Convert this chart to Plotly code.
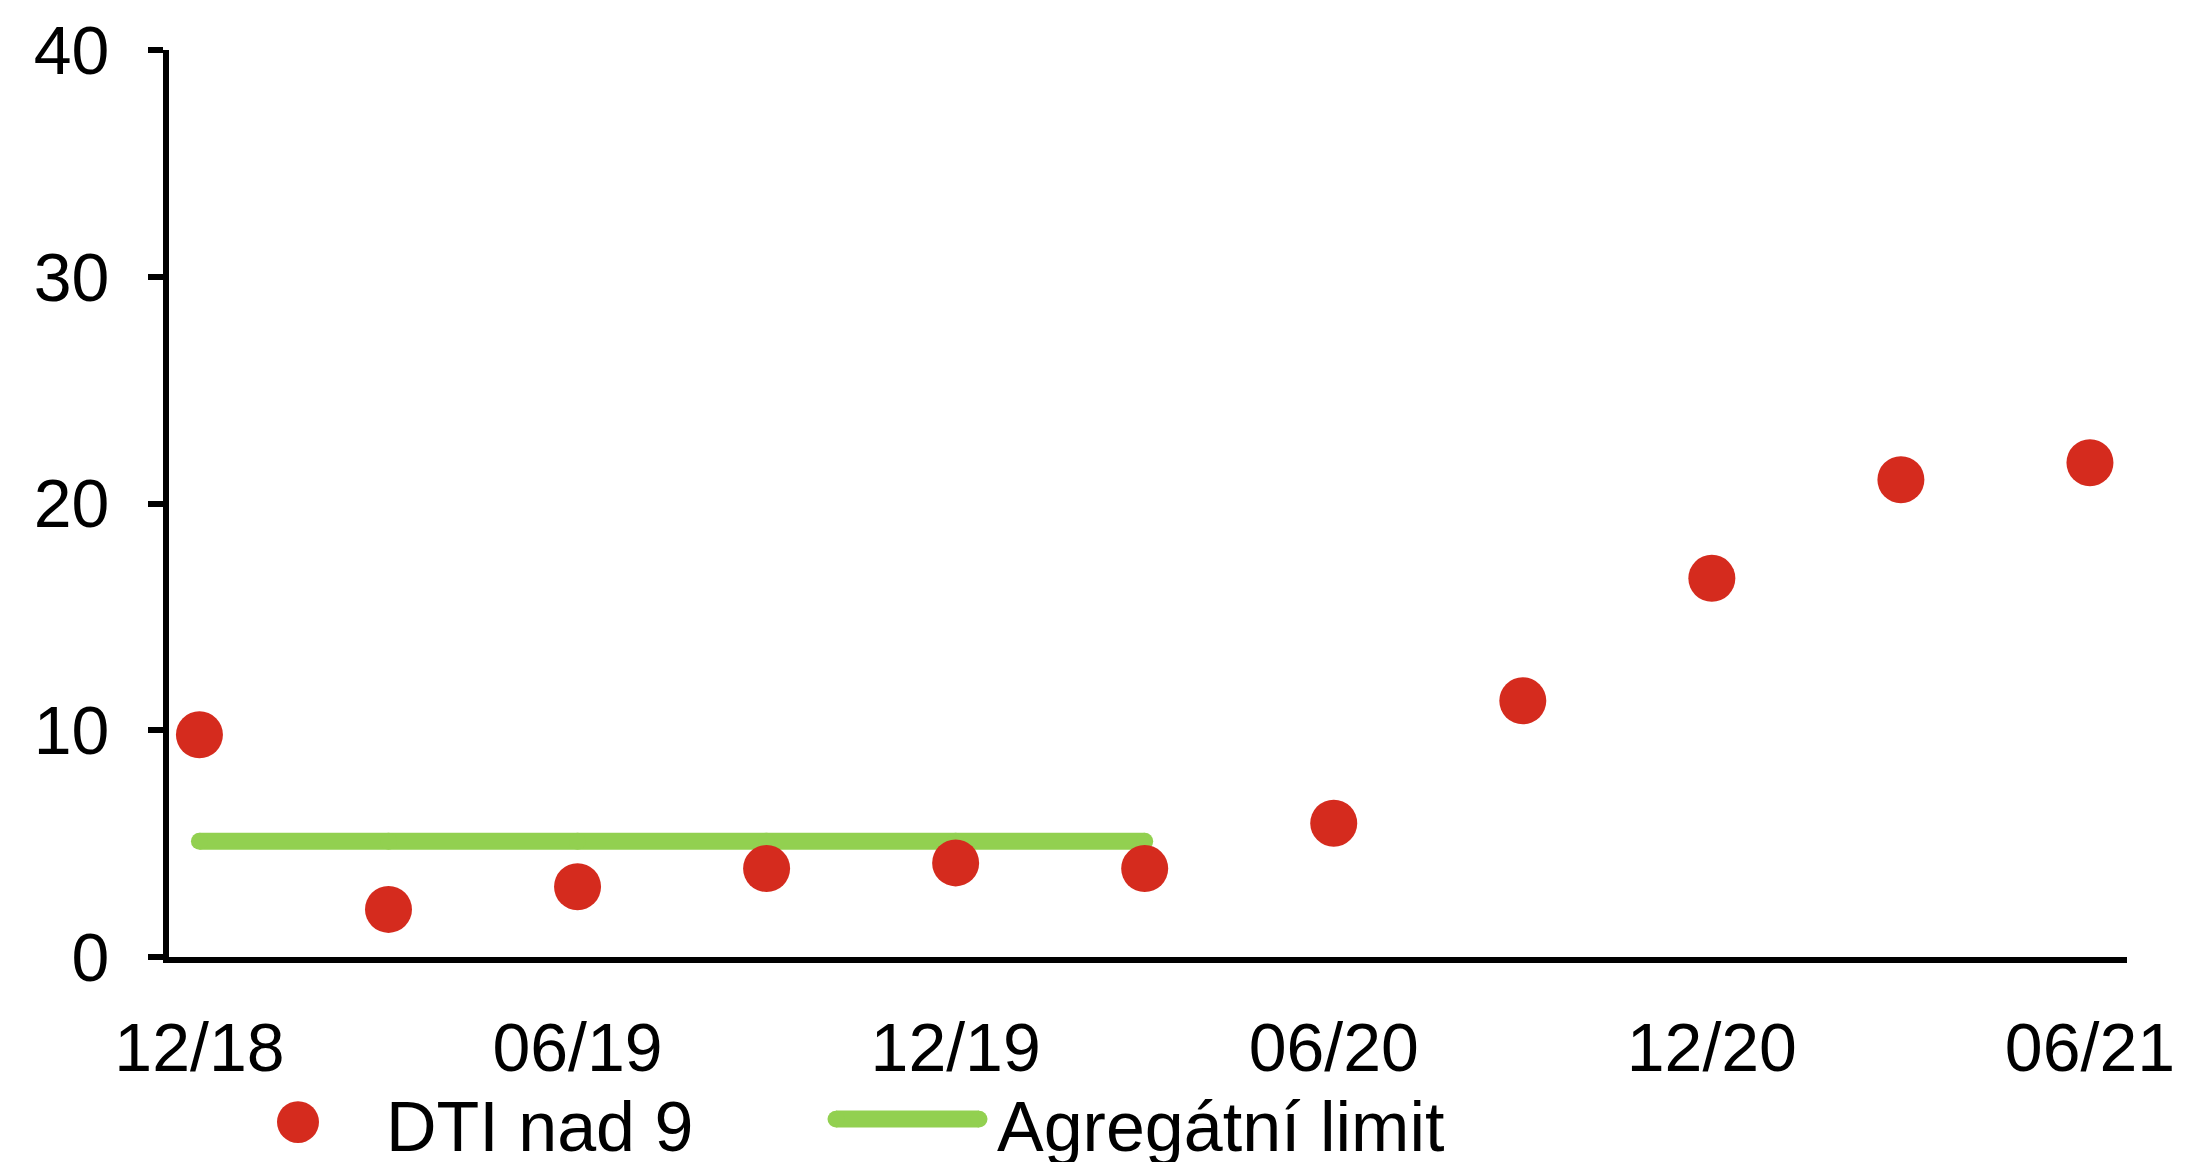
import plotly.graph_objects as go

# ---- data ----
quarters = ["12/18", "03/19", "06/19", "09/19", "12/19", "03/20",
            "06/20", "09/20", "12/20", "03/21", "06/21"]
dti_over_9 = [9.8, 2.1, 3.1, 3.9, 4.15, 3.9, 5.9, 11.3, 16.7, 21.05, 21.8]
limit_quarters = ["12/18", "03/19", "06/19", "09/19", "12/19", "03/20"]
limit_values = [5.1, 5.1, 5.1, 5.1, 5.1, 5.1]
tick_labels = ["12/18", "06/19", "12/19", "06/20", "12/20", "06/21"]
y_ticks = [0, 10, 20, 30, 40]

RED = "#D52B1E"
GREEN = "#92D050"
FONT = "Liberation Sans, Arial, sans-serif"
FS = 68

W, H = 2188, 1162
L, R, T, B = 169, 61, 45, 205
PW, PH = W - L - R, H - T - B

idx = {q: i for i, q in enumerate(quarters)}

fig = go.Figure()
fig.add_trace(go.Scatter(
    x=[idx[q] for q in limit_quarters], y=limit_values,
    mode="lines+markers", name="Agregátní limit",
    line=dict(color=GREEN, width=17),
    marker=dict(color=GREEN, size=17, line=dict(width=0)),
    showlegend=False, hoverinfo="skip"))
fig.add_trace(go.Scatter(
    x=[idx[q] for q in quarters], y=dti_over_9,
    mode="markers", name="DTI nad 9",
    marker=dict(color=RED, size=47, line=dict(width=0)),
    showlegend=False))

def px_x(p):
    return (p - L) / PW

def px_y(p):
    return (T + PH - p) / PH

shapes = []
# legend: red dot
cx, cy, r = 298, 1123, 21
shapes.append(dict(type="circle", xref="paper", yref="paper",
                   x0=px_x(cx - r), x1=px_x(cx + r),
                   y0=px_y(cy + r), y1=px_y(cy - r),
                   fillcolor=RED, line=dict(width=0)))
# legend: green line with round caps
lx0, lx1, ly, lw = 836, 979, 1120, 17
shapes.append(dict(type="line", xref="paper", yref="paper",
                   x0=px_x(lx0), x1=px_x(lx1), y0=px_y(ly), y1=px_y(ly),
                   line=dict(color=GREEN, width=lw)))
for ex in (lx0, lx1):
    shapes.append(dict(type="circle", xref="paper", yref="paper",
                       x0=px_x(ex - lw / 2), x1=px_x(ex + lw / 2),
                       y0=px_y(ly + lw / 2), y1=px_y(ly - lw / 2),
                       fillcolor=GREEN, line=dict(width=0)))

LFS = 70
annotations = [
    dict(text="DTI nad 9", xref="paper", yref="paper", x=px_x(384), y=px_y(1128),
         xanchor="left", yanchor="middle", showarrow=False,
         font=dict(family=FONT, size=LFS, color="black")),
    dict(text="Agregátní limit", xref="paper", yref="paper", x=px_x(995), y=px_y(1128),
         xanchor="left", yanchor="middle", showarrow=False,
         font=dict(family=FONT, size=LFS, color="black")),
]

fig.update_layout(
    width=W, height=H,
    margin=dict(l=L, r=R, t=T, b=B),
    paper_bgcolor="white", plot_bgcolor="white",
    font=dict(family=FONT, size=FS, color="black"),
    shapes=shapes, annotations=annotations,
    showlegend=False,
)
fig.update_xaxes(
    range=[-0.161, 10.196],
    tickmode="array",
    tickvals=[idx[q] for q in tick_labels],
    ticktext=tick_labels,
    showline=True, linecolor="black", linewidth=6,
    ticks="", showgrid=False, zeroline=False,
    ticklabelstandoff=26,
    tickfont=dict(family=FONT, size=FS, color="black"),
)
fig.update_yaxes(
    range=[0, 40],
    tickmode="array", tickvals=y_ticks,
    showline=True, linecolor="black", linewidth=6,
    ticks="outside", ticklen=15, tickwidth=6, tickcolor="black",
    showgrid=False, zeroline=False,
    ticklabelstandoff=25,
    tickfont=dict(family=FONT, size=FS, color="black"),
)

fig.write_html("out.html",
               config={"displayModeBar": False},
               post_script="document.body.style.margin='0';document.body.style.overflow='hidden';")
